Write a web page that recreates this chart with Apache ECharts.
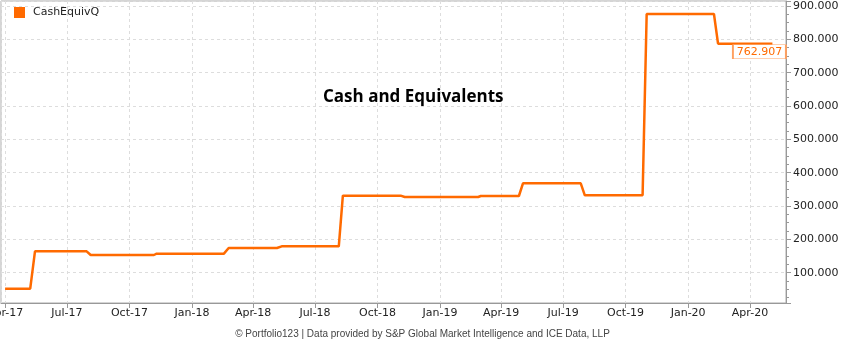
<!DOCTYPE html>
<html>
<head>
<meta charset="utf-8">
<script src="https://cdn.jsdelivr.net/npm/echarts@6/dist/echarts.min.js"></script>
<style>html,body{margin:0;padding:0;background:#fff;}#c{width:845px;height:348px;}</style>
</head>
<body>
<div id="c"></div>
<script>
var seriesName = 'CashEquivQ';
var chartTitle = 'Cash and Equivalents';
var footerText = '\u00a9 Portfolio123 | Data provided by S&P Global Market Intelligence and ICE Data, LLP';
var dates = ['2017-04-01','2017-05-08','2017-05-15','2017-07-30','2017-08-05','2017-11-06','2017-11-10','2018-02-17','2018-02-24','2018-05-06','2018-05-13','2018-08-05','2018-08-11','2018-11-04','2018-11-10','2019-02-26','2019-03-02','2019-04-27','2019-05-03','2019-07-27','2019-08-02','2019-10-26','2019-11-01','2020-02-08','2020-02-14','2020-05-04'];
var values = [52,52,164,164,153,153,157,157,174,174,179,179,331,331,327,327,330,330,368,368,332,332,876,876,787,787];
var lastLabelValue = 762.907;
var xMin = '2017-03-26', xMax = '2020-05-24';
var yMin = 9, yMax = 915;
var monthNames = ['Jan','Feb','Mar','Apr','May','Jun','Jul','Aug','Sep','Oct','Nov','Dec'];

var DAY = 86400000;
var data = dates.map(function (d, i) { return [d, values[i]]; });
var color = '#ff6a00';
var chart = echarts.init(document.getElementById('c'));
chart.setOption({
  animation: false,
  title: [{
    text: chartTitle, left: 318, top: 84,
    textStyle: { fontFamily: 'Open Sans', fontWeight: 'bold', fontSize: 17, color: '#000' }
  }, {
    text: footerText, left: 'center', top: 324,
    textStyle: { fontFamily: 'Liberation Sans', fontWeight: 'normal', fontSize: 10, color: '#444' }
  }],
  legend: {
    left: 9, top: 2, icon: 'rect', itemWidth: 11, itemHeight: 11,
    textStyle: { fontFamily: 'DejaVu Sans', fontSize: 11, color: '#222', padding: [0, 0, 0, 3] },
    data: [seriesName]
  },
  grid: { left: 1, right: 59, top: 1, bottom: 45, show: true, borderColor: '#aaa', borderWidth: 1,
    containLabel: false, outerBoundsMode: 'none' },
  xAxis: {
    type: 'time', min: xMin, max: xMax, splitNumber: 12,
    minInterval: 96 * DAY, maxInterval: 96 * DAY,
    axisLine: { lineStyle: { color: '#999' } },
    axisTick: { show: true, length: 5, lineStyle: { color: '#999' } },
    splitLine: { show: true, lineStyle: { color: '#ddd', type: [3, 3] } },
    axisLabel: {
      fontFamily: 'DejaVu Sans', fontSize: 11, color: '#222', margin: 5, hideOverlap: false,
      formatter: function (v) {
        var d = new Date(v);
        return monthNames[d.getMonth()] + '-' + String(d.getFullYear()).slice(2);
      }
    }
  },
  yAxis: {
    type: 'value', position: 'right', min: yMin, max: yMax, splitNumber: 9,
    axisLine: { show: true, lineStyle: { color: '#999' } },
    axisTick: { show: true, length: 5, lineStyle: { color: '#999' } },
    minorTick: { show: true, splitNumber: 4, length: 3, lineStyle: { color: '#999' } },
    splitLine: { show: true, lineStyle: { color: '#ddd', type: [3, 3] } },
    axisLabel: {
      fontFamily: 'DejaVu Sans', fontSize: 11, color: '#222', margin: 7,
      showMinLabel: false, showMaxLabel: false,
      formatter: function (v) { return v.toFixed(3); }
    }
  },
  series: [{
    name: seriesName, type: 'line', data: data, showSymbol: false, symbol: 'none',
    lineStyle: { color: color, width: 2.5 }, itemStyle: { color: color },
    markPoint: {
      symbol: 'rect', symbolSize: [53, 14], symbolOffset: [-13, 0],
      itemStyle: { color: '#fff', borderColor: '#ffa060', borderWidth: 1 },
      label: { show: true, position: 'inside', color: color, fontFamily: 'DejaVu Sans', fontSize: 11,
        formatter: function (p) { return p.value.toFixed(3); } },
      data: [{ coord: [dates[dates.length - 1], lastLabelValue], value: lastLabelValue }]
    }
  }]
});
</script>
</body>
</html>
